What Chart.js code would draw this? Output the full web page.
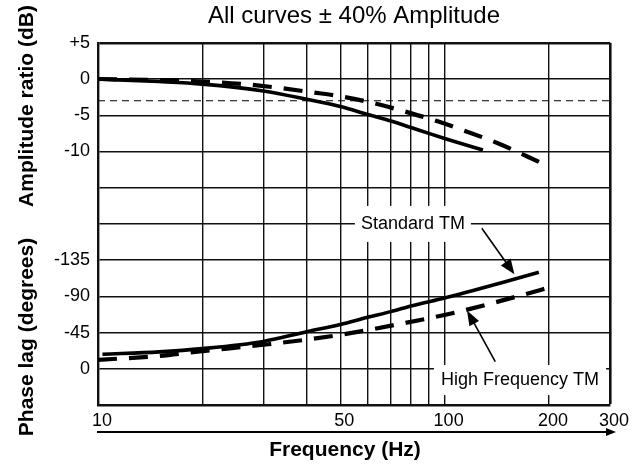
<!DOCTYPE html>
<html>
<head>
<meta charset="utf-8">
<script src="https://cdn.jsdelivr.net/npm/chart.js@4.4.0/dist/chart.umd.min.js"></script>
<style>
  html, body { margin: 0; padding: 0; background: #fff; }
  #wrap { width: 642px; height: 466px; }
</style>
</head>
<body>
<div id="wrap"><canvas id="bode"></canvas></div>
<script>
const FONT = "'Liberation Sans', Arial, Helvetica, sans-serif";

// frequency grid lines (Hz) and the ones that get a label
const freqGrid = [10, 20, 30, 40, 50, 60, 70, 80, 90, 100, 200, 300];
const freqLabels = [10, 50, 100, 200, 300];

// the left axis carries amplitude ticks (dB) on top and phase ticks (deg) below
const ampTicks = [5, 0, -5, -10];
const phaseTicks = [-135, -90, -45, 0];

// amplitude ratio, Standard TM (solid)
const ampStdFreq = [10, 15, 20, 30, 40, 50, 60, 70, 80, 90, 100, 129];
const ampStd = [0, -0.35, -0.7, -1.65, -2.8, -3.8, -4.9, -5.8, -6.7, -7.5, -8.2, -9.8];

// amplitude ratio, High Frequency TM (dashed)
const ampHfFreq = [10, 15, 20, 27, 33, 41, 51, 62, 77, 95, 115, 143, 175, 200];
const ampHf = [0, -0.15, -0.35, -0.75, -1.2, -1.8, -2.45, -3.3, -4.5, -5.8, -7.2, -8.9, -10.8, -12.1];

// phase lag, Standard TM (solid)
const phaseStdFreq = [10.3, 15, 20, 30, 40, 50, 60, 70, 80, 100, 146, 187];
const phaseStd = [-18, -21, -25, -34, -46, -55, -64, -71, -78, -88, -107, -120];

// phase lag, High Frequency TM (dashed)
const phaseHfFreq = [10, 15, 20, 31, 48, 73, 110, 172, 200];
const phaseHf = [-11, -16, -22, -30.5, -41, -55, -71, -93, -101];

// -3 dB reference line
const refFreq = [10, 300];
const refDb = [-3, -3];

// axis ranges: amplitude bottom-to-top, phase top-to-bottom (reversed)
const ampMin = -45, ampMax = 5;
const phaseTop = -405, phaseBottom = 45;

function points(xs, ys) {
    return xs.map((x, i) => ({ x, y: ys[i] }));
}

function yLabel(v) {
    if (ampTicks.includes(v)) return v > 0 ? '+' + v : String(v);
    // same height on the phase scale
    const frac = (ampMax - v) / (ampMax - ampMin);
    const ph = Math.round(phaseTop + frac * (phaseBottom - phaseTop));
    if (phaseTicks.includes(ph)) return String(ph);
    return '';
}

function arrow(ctx, x1, y1, x2, y2, head, half) {
    const a = Math.atan2(y2 - y1, x2 - x1);
    const c = Math.cos(a), s = Math.sin(a);
    ctx.beginPath();
    ctx.moveTo(x1, y1);
    ctx.lineTo(x2 - head * c * 0.9, y2 - head * s * 0.9);
    ctx.stroke();
    ctx.beginPath();
    ctx.moveTo(x2, y2);
    ctx.lineTo(x2 - head * c + half * s, y2 - head * s - half * c);
    ctx.lineTo(x2 - head * c - half * s, y2 - head * s + half * c);
    ctx.closePath();
    ctx.fill();
}

function labelBox(ctx, text, cx, cy, padX, h) {
    const w = ctx.measureText(text).width + padX * 2;
    ctx.fillStyle = '#fff';
    ctx.fillRect(cx - w / 2, cy - h / 2, w, h);
    ctx.fillStyle = '#000';
    ctx.fillText(text, cx, cy);
}

const annotations = {
    id: 'annotations',
    beforeDatasetsDraw(chart) {
        const { ctx, scales: { x, y, phase } } = chart;
        ctx.save();
        ctx.font = '18px ' + FONT;
        ctx.textAlign = 'center';
        ctx.textBaseline = 'middle';
        labelBox(ctx, 'Standard TM', x.getPixelForValue(81), y.getPixelForValue(-20), 6, 36);
        labelBox(ctx, 'High Frequency TM', x.getPixelForValue(165), phase.getPixelForValue(14), 7, 30);
        ctx.restore();
    },
    afterDraw(chart) {
        const { ctx, chartArea, scales: { x, y, phase } } = chart;
        ctx.save();
        ctx.strokeStyle = '#000';
        ctx.fillStyle = '#000';

        // pointers from the labels to the phase curves
        ctx.lineWidth = 1.6;
        arrow(ctx, x.getPixelForValue(128), y.getPixelForValue(-20.6),
            x.getPixelForValue(159), phase.getPixelForValue(-117.5), 15, 6);
        arrow(ctx, x.getPixelForValue(140), phase.getPixelForValue(-9),
            x.getPixelForValue(116), phase.getPixelForValue(-72.5), 15, 5.5);

        // frequency arrow under the tick labels
        ctx.lineWidth = 1.8;
        const ay = chartArea.bottom + 27;
        arrow(ctx, chartArea.left - 1, ay, chartArea.right + 6, ay, 10, 4);

        // axis titles
        ctx.font = 'bold 21px ' + FONT;
        ctx.textAlign = 'center';
        ctx.textBaseline = 'middle';
        ctx.fillText('Frequency (Hz)', 345, 450);

        ctx.translate(27, 0);
        ctx.rotate(-Math.PI / 2);
        ctx.fillText('Amplitude ratio (dB)', -106, 0);
        ctx.fillText('Phase lag (degrees)', -337, 0);
        ctx.restore();
    }
};

const solid = { borderColor: '#000', borderWidth: 3.6, fill: false, cubicInterpolationMode: 'monotone' };
const dashed = { borderColor: '#000', borderWidth: 4.2, borderDash: [19, 12], borderCapStyle: 'butt', fill: false, cubicInterpolationMode: 'monotone' };

new Chart(document.getElementById('bode'), {
    type: 'line',
    data: {
        datasets: [
            { ...solid, label: 'Standard TM amplitude', data: points(ampStdFreq, ampStd), yAxisID: 'y' },
            { ...dashed, label: 'High Frequency TM amplitude', data: points(ampHfFreq, ampHf), yAxisID: 'y' },
            { ...solid, label: 'Standard TM phase', data: points(phaseStdFreq, phaseStd), yAxisID: 'phase' },
            { ...dashed, label: 'High Frequency TM phase', data: points(phaseHfFreq, phaseHf), yAxisID: 'phase' },
            { label: '-3 dB', data: points(refFreq, refDb), yAxisID: 'y', borderColor: '#000', borderWidth: 1.2, borderDash: [7, 5], fill: false }
        ]
    },
    options: {
        responsive: true,
        maintainAspectRatio: false,
        animation: false,
        layout: { padding: { left: 0, right: 32, top: 0, bottom: 0 } },
        elements: { point: { radius: 0 } },
        plugins: {
            legend: { display: false },
            tooltip: { enabled: false },
            title: {
                display: true,
                text: 'All curves ± 40% Amplitude',
                fullSize: false,
                color: '#000',
                font: { family: FONT, size: 24, weight: 'normal' },
                padding: { top: 2, bottom: 12 }
            }
        },
        scales: {
            x: {
                type: 'logarithmic',
                min: 10,
                max: 300,
                afterBuildTicks: s => { s.ticks = freqGrid.map(v => ({ value: v })); },
                afterFit: s => { s.height = 61; },
                grid: { color: '#111', lineWidth: c => (c.tick && c.tick.value === 300 ? 2.6 : 1.4), drawTicks: false },
                border: { color: '#111', width: 2.6 },
                ticks: {
                    autoSkip: false,
                    maxRotation: 0,
                    padding: 5,
                    labelOffset: 4,
                    color: '#000',
                    font: { family: FONT, size: 18 },
                    callback: v => (freqLabels.includes(v) ? String(v) : '')
                }
            },
            y: {
                type: 'linear',
                position: 'left',
                min: ampMin,
                max: ampMax,
                afterFit: s => { s.width = 98; },
                grid: { color: '#111', lineWidth: c => (c.tick && c.tick.value === ampMax ? 2.4 : 1.4), drawTicks: false },
                border: { color: '#111', width: 2.4 },
                ticks: {
                    stepSize: 5,
                    padding: 8,
                    color: '#000',
                    font: { family: FONT, size: 18 },
                    callback: yLabel
                }
            },
            phase: {
                type: 'linear',
                display: false,
                min: phaseTop,
                max: phaseBottom,
                reverse: true
            }
        }
    },
    plugins: [annotations]
});
</script>
</body>
</html>
